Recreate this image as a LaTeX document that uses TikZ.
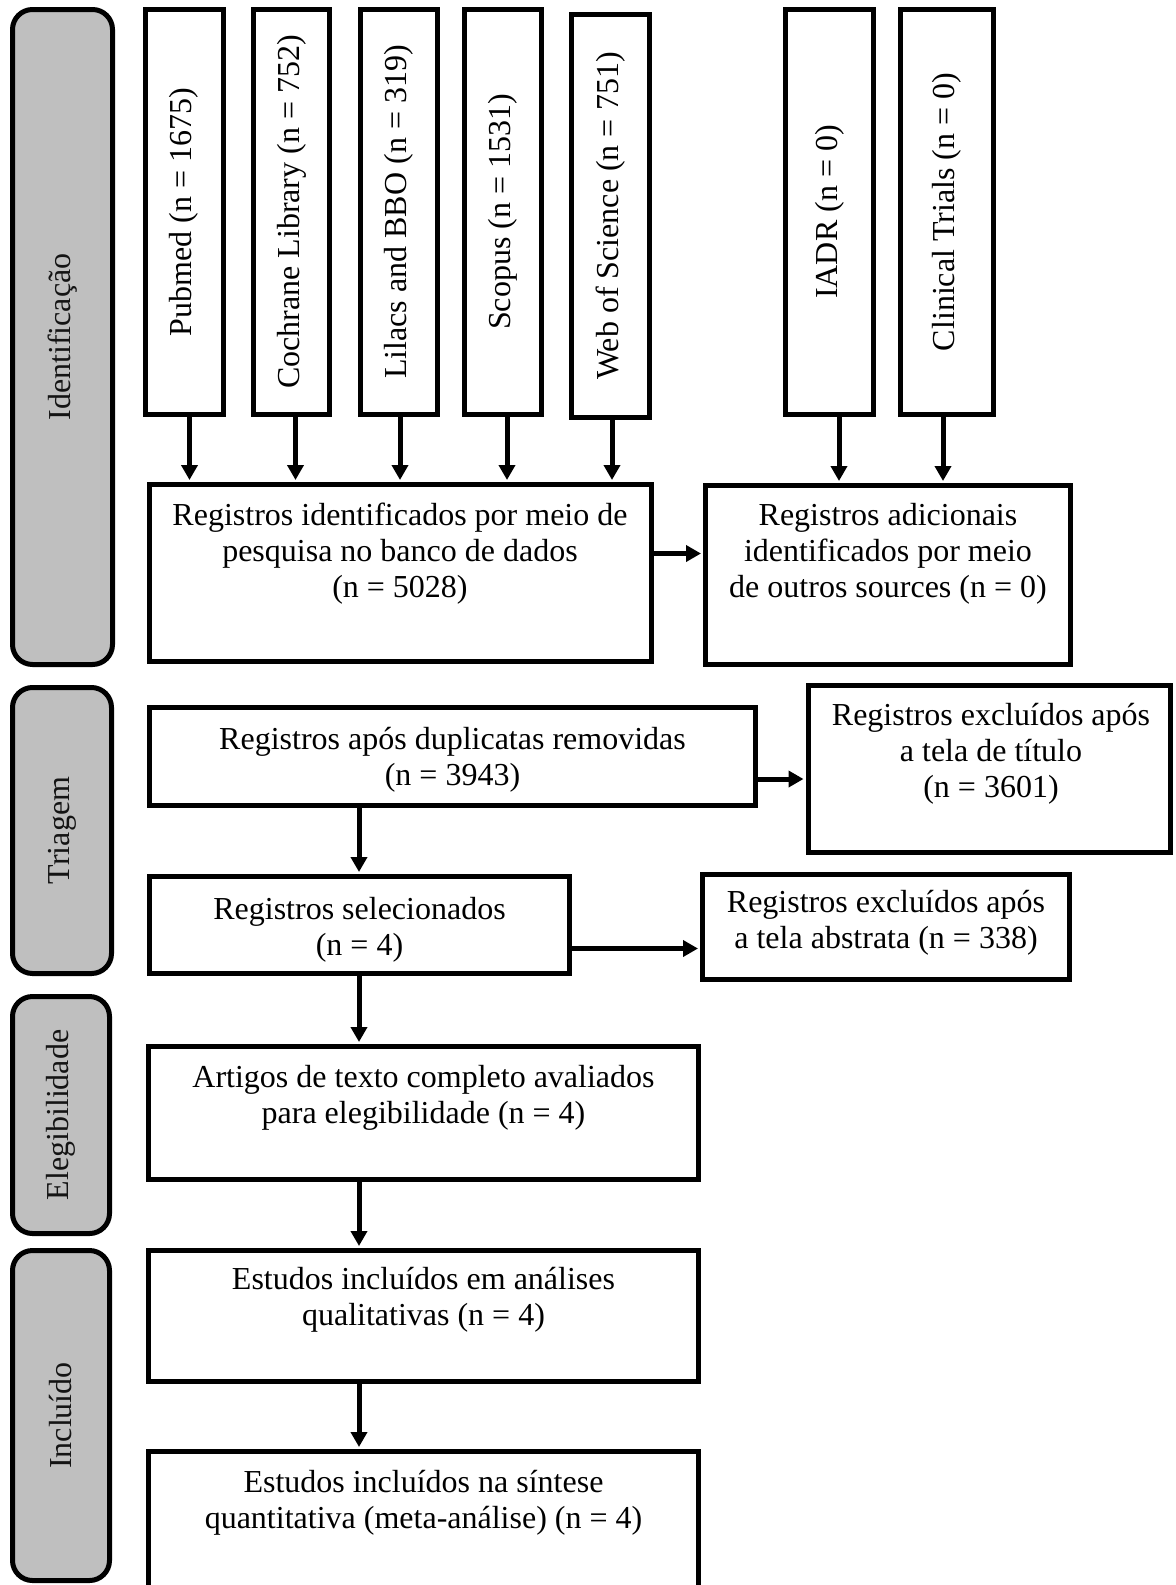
\documentclass[tikz,border=0pt]{standalone}
\usepackage{fontspec}
\setmainfont{Liberation Serif}
\usetikzlibrary{fit,arrows.meta}
\definecolor{phasegray}{RGB}{191,191,191}
\begin{document}
\begin{tikzpicture}[x=0.5pt,y=-0.5pt,
  bx/.style={draw, line width=2.5pt, inner sep=0pt},
  phase/.style={draw, line width=2.5pt, fill=phasegray, rounded corners=10pt, inner sep=0pt},
  txt/.style={font=\fontsize{16}{18}\selectfont, align=center, inner sep=0pt},
  vtxt/.style={font=\fontsize{16}{18}\selectfont, rotate=90, inner sep=0pt},
  ptxt/.style={font=\fontsize{16}{18}\selectfont, rotate=90, inner sep=0pt, text=black!92},
  arr/.style={line width=2.5pt, -{Triangle[width=8pt,length=7.5pt]}, shorten >=1pt}
]
\clip (0,0) rectangle (1175,1585);
\fill[white] (0,0) rectangle (1175,1585);

% phase boxes
\node[phase, fit={(12.5,9.5)(112.5,664.5)}] (pid) {};
\node[ptxt] (pidt) at (pid.center) {Identificação};
\node[phase, fit={(12.5,687.5)(111.5,973.5)}] (ptr) {};
\node[ptxt] (ptrt) at (ptr.center) {Triagem};
\node[phase, fit={(12.5,996.5)(109.5,1233.5)}] (pel) {};
\node[ptxt] (pelt) at (pel.center) {Elegibilidade};
\node[phase, fit={(12.5,1250.5)(109.5,1580.5)}] (pin) {};
\node[ptxt] (pint) at (pin.center) {Incluído};

% source boxes
\node[bx, fit={(145.5,9.5)(223,414.5)}] (pub) {};
\node[vtxt] (pubt) at (pub.center) {Pubmed (n = 1675)};
\node[bx, fit={(253.5,9.5)(329.5,414.5)}] (coc) {};
\node[vtxt] (coct) at (coc.center) {Cochrane Library (n = 752)};
\node[bx, fit={(360.5,9.5)(437.5,414.5)}] (lil) {};
\node[vtxt] (lilt) at (lil.center) {Lilacs and BBO (n = 319)};
\node[bx, fit={(464.5,9.5)(541.5,414.5)}] (sco) {};
\node[vtxt] (scot) at (sco.center) {Scopus (n = 1531)};
\node[bx, fit={(571.5,14.5)(649.5,417.5)}] (wos) {};
\node[vtxt] (wost) at (wos.center) {Web of Science (n = 751)};
\node[bx, fit={(785.5,9.5)(873.5,414.5)}] (iad) {};
\node[vtxt] (iadt) at (iad.center) {IADR (n = 0)};
\node[bx, fit={(900.5,9.5)(993.5,414.5)}] (cli) {};
\node[vtxt] (clit) at (cli.center) {Clinical Trials (n = 0)};

% flow boxes
\node[bx, fit={(149.5,484.5)(651.5,661.5)}] (reg) {};
\node[txt] (regt) at (400,553.5) {Registros identificados por meio de\\pesquisa no banco de dados\\(n = 5028)};
\node[bx, fit={(705.5,485.5)(1070.5,664.5)}] (adi) {};
\node[txt] (adit) at (888,553.5) {Registros adicionais\\identificados por meio\\de outros sources (n = 0)};
\node[bx, fit={(149.5,707.5)(755.5,805.5)}] (dup) {};
\node[txt] (dupt) at (452.5,759.5) {Registros após duplicatas removidas\\(n = 3943)};
\node[bx, fit={(808,685.5)(1170.5,852.5)}] (tit) {};
\node[txt] (titt) at (991,753.5) {Registros excluídos após\\a tela de título\\(n = 3601)};
\node[bx, fit={(149.5,876.5)(569.5,973)}] (sel) {};
\node[txt] (selt) at (359.5,929.5) {Registros selecionados\\(n = 4)};
\node[bx, fit={(702.5,874.5)(1069.5,979.5)}] (abs) {};
\node[txt] (abst) at (886,923) {Registros excluídos após\\a tela abstrata (n = 338)};
\node[bx, fit={(148.5,1046.5)(698.5,1179.5)}] (art) {};
\node[txt] (artt) at (423.5,1097.5) {Artigos de texto completo avaliados\\para elegibilidade (n = 4)};
\node[bx, fit={(148.5,1250.5)(698.5,1381.5)}] (qual) {};
\node[txt] (qualt) at (423.5,1300) {Estudos incluídos em análises\\qualitativas (n = 4)};
\node[bx, fit={(148.5,1451.5)(698.5,1620)}] (quan) {};
\node[txt] (quant) at (423.5,1502.5) {Estudos incluídos na síntese\\quantitativa (meta-análise) (n = 4)};

% connector guide coordinates
\coordinate (xpub) at (189.5,0);
\coordinate (xcoc) at (295.5,0);
\coordinate (xlil) at (400,0);
\coordinate (xsco) at (507,0);
\coordinate (xwos) at (612,0);
\coordinate (xiad) at (839,0);
\coordinate (xcli) at (943,0);
\coordinate (xmain) at (359,0);
\coordinate (yreg) at (0,553.5);
\coordinate (ydup) at (0,779);
\coordinate (ysel) at (0,948.5);

% arrows
\draw[arr] (pub.south -| xpub) -- (reg.north -| xpub);
\draw[arr] (coc.south -| xcoc) -- (reg.north -| xcoc);
\draw[arr] (lil.south -| xlil) -- (reg.north -| xlil);
\draw[arr] (sco.south -| xsco) -- (reg.north -| xsco);
\draw[arr] (wos.south -| xwos) -- (reg.north -| xwos);
\draw[arr] (iad.south -| xiad) -- (adi.north -| xiad);
\draw[arr] (cli.south -| xcli) -- (adi.north -| xcli);
\draw[arr] (reg.east |- yreg) -- (adi.west |- yreg);
\draw[arr] (dup.east |- ydup) -- (tit.west |- ydup);
\draw[arr] (sel.east |- ysel) -- (abs.west |- ysel);
\draw[arr] (dup.south -| xmain) -- (sel.north -| xmain);
\draw[arr] (sel.south -| xmain) -- (art.north -| xmain);
\draw[arr] (art.south -| xmain) -- (qual.north -| xmain);
\draw[arr] (qual.south -| xmain) -- (quan.north -| xmain);
\end{tikzpicture}
\end{document}
